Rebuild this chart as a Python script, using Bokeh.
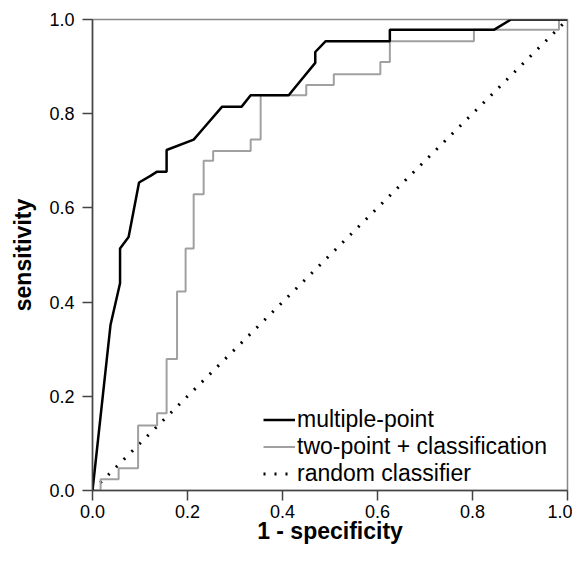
from bokeh.plotting import figure
from bokeh.models import Range1d, FixedTicker, Legend, LegendItem
from bokeh.embed import file_html
from bokeh.resources import INLINE

# ROC curve: multiple-point (black)
mp_fpr = [0.0, 0.038, 0.058, 0.058, 0.076, 0.098, 0.122, 0.136, 0.156, 0.156, 0.213,
          0.231, 0.273, 0.314, 0.333, 0.413, 0.438, 0.469, 0.469, 0.491, 0.626, 0.626,
          0.845, 0.881, 1.0]
mp_tpr = [0.0, 0.352, 0.44, 0.514, 0.538, 0.654, 0.668, 0.677, 0.677, 0.723, 0.745,
          0.766, 0.815, 0.815, 0.839, 0.839, 0.870, 0.908, 0.931, 0.954, 0.954, 0.978,
          0.978, 1.0, 1.0]

# ROC curve: two-point + classification (grey, step)
tp_fpr = [0.0, 0.017, 0.017, 0.055, 0.055, 0.096, 0.096, 0.136, 0.136, 0.156, 0.156,
          0.178, 0.178, 0.196, 0.196, 0.213, 0.213, 0.234, 0.234, 0.254, 0.254, 0.333,
          0.333, 0.354, 0.354, 0.450, 0.450, 0.508, 0.508, 0.606, 0.606, 0.626, 0.626,
          0.803, 0.803, 0.982, 0.982, 1.0]
tp_tpr = [0.0, 0.0, 0.024, 0.024, 0.047, 0.047, 0.138, 0.138, 0.164, 0.164, 0.279,
          0.279, 0.4225, 0.4225, 0.514, 0.514, 0.629, 0.629, 0.700, 0.700, 0.721, 0.721,
          0.745, 0.745, 0.839, 0.839, 0.861, 0.861, 0.884, 0.884, 0.910, 0.910, 0.954,
          0.954, 0.978, 0.978, 1.0, 1.0]

# random classifier diagonal
rc_x = [0.0, 1.0]
rc_y = [0.0, 1.0]

ticks = [0.0, 0.2, 0.4, 0.6, 0.8, 1.0]
tick_labels = {0.0: "0.0", 0.2: "0.2", 0.4: "0.4", 0.6: "0.6", 0.8: "0.8", 1.0: "1.0"}

FONT = "Liberation Sans"

p = figure(width=572, height=546, output_backend="svg", toolbar_location=None,
           x_range=Range1d(0, 1), y_range=Range1d(0, 1),
           min_border_left=92, min_border_right=5, min_border_top=19, min_border_bottom=52)
p.background_fill_color = "white"
p.border_fill_color = "white"
p.outline_line_color = "#888888"
p.outline_line_width = 1.5
p.grid.visible = False

r_rc = p.line(rc_x, rc_y, line_color="black", line_width=3, line_dash="2 9")
r_tp = p.line(tp_fpr, tp_tpr, line_color="#a0a0a0", line_width=2)
r_mp = p.line(mp_fpr, mp_tpr, line_color="black", line_width=2.5)

for ax in (p.xaxis[0], p.yaxis[0]):
    ax.ticker = FixedTicker(ticks=ticks)
    ax.major_label_overrides = tick_labels
    ax.minor_tick_line_color = None
    ax.major_tick_in = 0
    ax.major_tick_out = 10
    ax.major_tick_line_color = "#444444"
    ax.major_tick_line_width = 1.5
    ax.axis_line_color = "#444444"
    ax.axis_line_width = 1.5
    ax.major_label_text_font = FONT
    ax.major_label_text_font_size = "18px"
    ax.major_label_text_color = "black"
    ax.axis_label_text_font = FONT
    ax.axis_label_text_font_style = "bold"
    ax.axis_label_text_font_size = "23px"
    ax.axis_label_text_color = "black"

p.xaxis.axis_label = "1 - specificity"
p.yaxis.axis_label = "sensitivity"
p.xaxis.major_label_standoff = 4
p.yaxis.major_label_standoff = 8
p.xaxis.axis_label_standoff = -3
p.yaxis.axis_label_standoff = 10

legend = Legend(items=[
    LegendItem(label="multiple-point", renderers=[r_mp]),
    LegendItem(label="two-point + classification", renderers=[r_tp]),
    LegendItem(label="random classifier", renderers=[r_rc]),
], location=(171, 3))
legend.border_line_color = None
legend.background_fill_alpha = 0
legend.padding = 0
legend.margin = 0
legend.spacing = 0
legend.glyph_width = 32
legend.glyph_height = 25
legend.label_height = 25
legend.label_standoff = 2
legend.label_text_font = FONT
legend.label_text_font_size = "23px"
legend.label_text_color = "black"
p.add_layout(legend, "center")

open("out.html", "w").write(file_html(p, INLINE))
